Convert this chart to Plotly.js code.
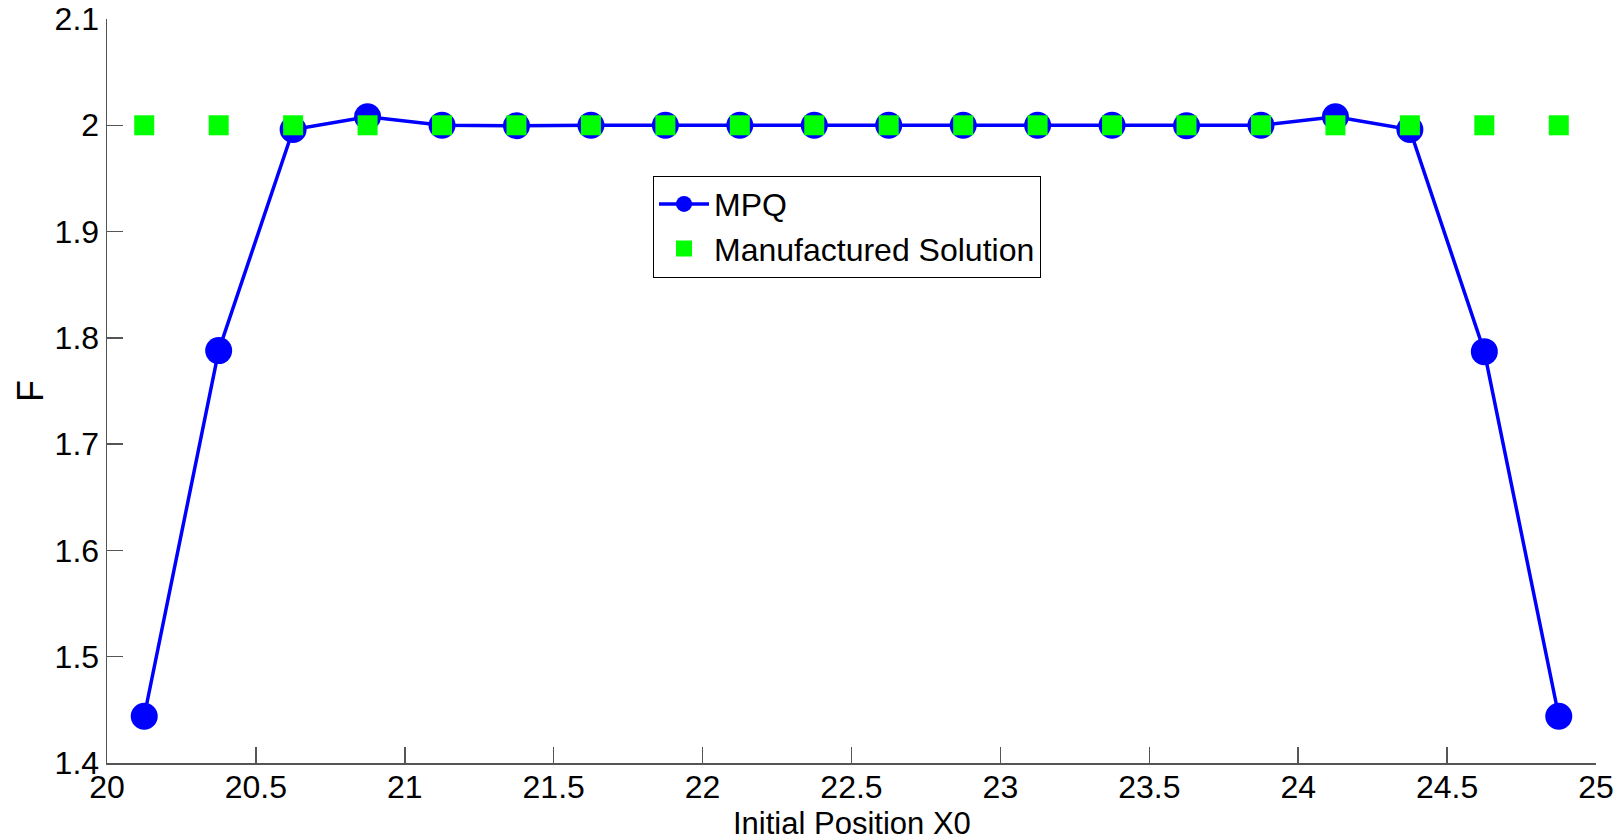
<!DOCTYPE html>
<html>
<head>
<meta charset="utf-8">
<script src="https://cdn.plot.ly/plotly-3.0.1.min.js"></script>
<style>html,body{margin:0;padding:0;background:#fff;}#chart{width:1617px;height:839px;}</style>
</head>
<body>
<div id="chart"></div>
<script>
const x0 = [20.125, 20.375, 20.625, 20.875, 21.125, 21.375, 21.625, 21.875, 22.125, 22.375,
            22.625, 22.875, 23.125, 23.375, 23.625, 23.875, 24.125, 24.375, 24.625, 24.875];
const mpq = [1.444, 1.788, 1.996, 2.008, 2.000, 1.9995, 2.000, 2.000, 2.000, 2.000,
             2.000, 2.000, 2.000, 2.000, 1.9995, 2.000, 2.008, 1.996, 1.787, 1.444];
const manufactured = [2, 2, 2, 2, 2, 2, 2, 2, 2, 2, 2, 2, 2, 2, 2, 2, 2, 2, 2, 2];
const seriesNames = ['MPQ', 'Manufactured Solution'];
const xTitle = 'Initial Position X0';
const yTitle = 'F';

const font = 'Liberation Sans, Arial, sans-serif';
const axisColor = '#555555';

const traces = [
  {
    x: x0, y: mpq, name: seriesNames[0], type: 'scatter', mode: 'lines+markers',
    line: {color: '#0000ff', width: 3.5},
    marker: {color: '#0000ff', size: 27, symbol: 'circle'}
  },
  {
    x: x0, y: manufactured, name: seriesNames[1], type: 'scatter', mode: 'markers',
    marker: {color: '#00ff00', size: 20, symbol: 'square'}
  }
];

const layout = {
  width: 1617, height: 839,
  margin: {l: 107, r: 21, t: 19, b: 76},
  paper_bgcolor: '#ffffff', plot_bgcolor: '#ffffff',
  font: {family: font, size: 32, color: '#000000'},
  showlegend: true,
  legend: {
    x: 0.3667, y: 0.7895, xanchor: 'left', yanchor: 'top',
    bgcolor: '#ffffff', bordercolor: '#000000', borderwidth: 1,
    font: {family: font, size: 32, color: '#000000'},
    itemwidth: 50, tracegroupgap: 0
  },
  xaxis: {
    range: [20, 25], dtick: 0.5, tick0: 20,
    showgrid: false, zeroline: false,
    showline: true, linecolor: axisColor, linewidth: 1.5, mirror: false,
    ticks: 'inside', ticklen: 16, tickwidth: 1.5, tickcolor: axisColor,
    ticklabelstandoff: -5,
    tickfont: {family: font, size: 32, color: '#000000'}
  },
  yaxis: {
    range: [1.4, 2.1], dtick: 0.1, tick0: 1.4,
    showgrid: false, zeroline: false,
    showline: true, linecolor: axisColor, linewidth: 1.5, mirror: false,
    ticks: 'inside', ticklen: 16, tickwidth: 1.5, tickcolor: axisColor,
    tickfont: {family: font, size: 32, color: '#000000'},
    title: {text: yTitle, font: {family: font, size: 36, color: '#000000'}, standoff: 0}
  },
  annotations: [
    {
      text: xTitle, xref: 'paper', yref: 'paper', x: 0.5, y: 0,
      xanchor: 'center', yanchor: 'top', yshift: -42, borderpad: 0, showarrow: false,
      font: {family: font, size: 31, color: '#000000'}
    }
  ]
};

Plotly.newPlot('chart', traces, layout, {displayModeBar: false, staticPlot: true});
</script>
</body>
</html>
